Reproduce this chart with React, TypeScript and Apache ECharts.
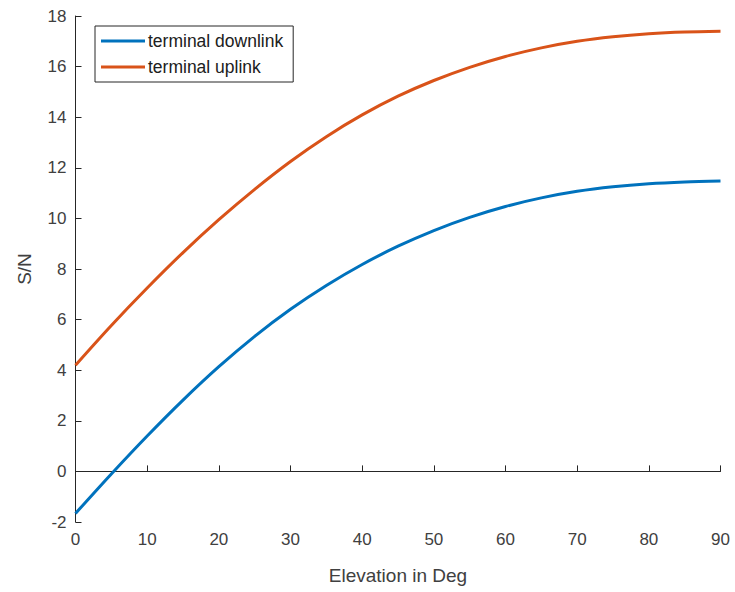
import React, { useEffect, useRef } from "react";
import * as echarts from "echarts";

const elevation = [0, 5, 10, 15, 20, 25, 30, 35, 40, 45, 50, 55, 60, 65, 70, 75, 80, 85, 90];
const downlink = [-1.66, -0.1, 1.4, 2.82, 4.14, 5.34, 6.41, 7.35, 8.18, 8.9, 9.52, 10.04, 10.47, 10.81, 11.07, 11.25, 11.37, 11.44, 11.48];
const uplink = [4.2, 5.77, 7.25, 8.65, 9.95, 11.15, 12.25, 13.23, 14.09, 14.83, 15.45, 15.97, 16.4, 16.74, 17.0, 17.18, 17.3, 17.37, 17.4];
const seriesNames = ["terminal downlink", "terminal uplink"];
const xTicks = { min: 0, max: 90, interval: 10 };
const yTicks = { min: -2, max: 18, interval: 2 };

const FONT = "'Liberation Sans', Arial, Helvetica, sans-serif";
const TEXT = "#404040";
const AXIS = "#262626";

export default function App() {
  const ref = useRef<HTMLDivElement>(null);
  useEffect(() => {
    if (!ref.current) return;
    const chart = echarts.init(ref.current, undefined, { renderer: "svg" });
    const pair = (ys: number[]) => elevation.map((x, i) => [x, ys[i]]);
    chart.setOption({
      animation: false,
      backgroundColor: "#ffffff",
      textStyle: { fontFamily: FONT },
      grid: { left: 75.5, right: 14.5, top: 16, bottom: 70 },
      legend: {
        orient: "vertical",
        left: 95,
        top: 26,
        backgroundColor: "#ffffff",
        borderColor: AXIS,
        borderWidth: 1,
        borderRadius: 0,
        padding: [6, 10, 6, 6],
        itemGap: 8,
        itemWidth: 44,
        itemHeight: 3,
        icon: "rect",
        textStyle: { fontSize: 17.5, color: "#202020", fontFamily: FONT, padding: [0, 0, 0, -2] },
        data: seriesNames,
      },
      xAxis: {
        type: "value",
        min: xTicks.min,
        max: xTicks.max,
        interval: xTicks.interval,
        name: "Elevation in Deg",
        nameLocation: "middle",
        nameGap: 44,
        nameTextStyle: { fontSize: 19, color: TEXT, fontFamily: FONT },
        axisLine: { show: true, lineStyle: { color: AXIS, width: 1 } },
        axisTick: { show: true, inside: true, length: 6, lineStyle: { color: AXIS } },
        axisLabel: { fontSize: 17, color: TEXT, margin: 9, fontFamily: FONT },
        splitLine: { show: false },
      },
      yAxis: {
        type: "value",
        min: yTicks.min,
        max: yTicks.max,
        interval: yTicks.interval,
        name: "S/N",
        nameLocation: "middle",
        nameGap: 42,
        nameTextStyle: { fontSize: 19, color: TEXT, fontFamily: FONT },
        axisLine: { show: true, lineStyle: { color: AXIS, width: 1 } },
        axisTick: { show: true, inside: true, length: 6, lineStyle: { color: AXIS } },
        axisLabel: { fontSize: 17, color: TEXT, margin: 9, fontFamily: FONT },
        splitLine: { show: false },
      },
      series: [
        {
          name: seriesNames[0],
          type: "line",
          data: pair(downlink),
          smooth: 0.3,
          showSymbol: false,
          color: "#0072BD",
          lineStyle: { width: 3, color: "#0072BD" },
        },
        {
          name: seriesNames[1],
          type: "line",
          data: pair(uplink),
          smooth: 0.3,
          showSymbol: false,
          color: "#D95319",
          lineStyle: { width: 3, color: "#D95319" },
        },
      ],
    });
    return () => chart.dispose();
  }, []);
  return (
    <div
      ref={ref}
      style={{ position: "fixed", left: 0, top: 0, width: 735, height: 592, background: "#fff" }}
    />
  );
}
